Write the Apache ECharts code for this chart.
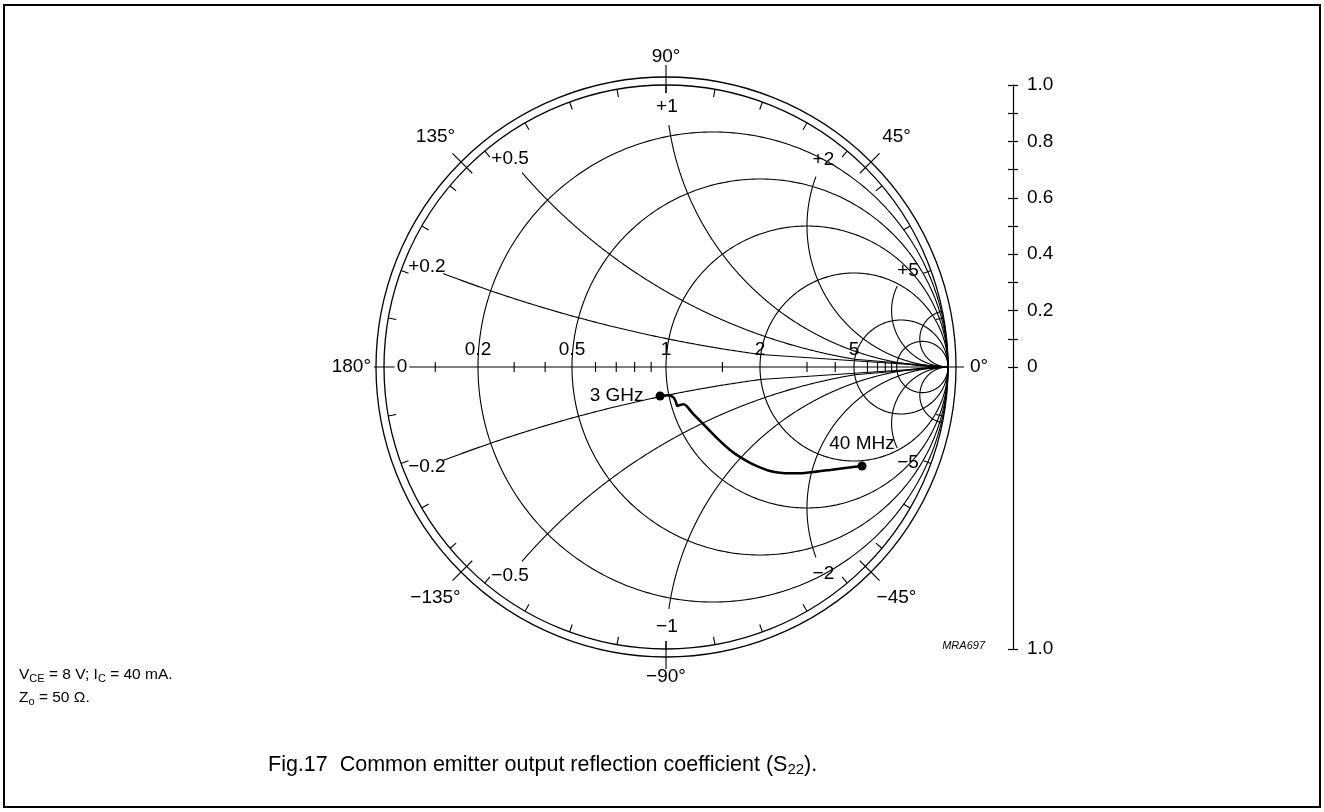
<!DOCTYPE html>
<html><head><meta charset="utf-8">
<script src="https://cdn.jsdelivr.net/npm/echarts@6/dist/echarts.min.js"></script>
<style>html,body{margin:0;padding:0;background:#fff}#c{width:1324px;height:812px}</style>
</head><body><div id="c"></div>
<script>
// ---- chart content ----
const resistanceCircles = [0.2, 0.5, 1, 2, 5, 10];
const resistanceLabelValues = [0, 0.2, 0.5, 1, 2, 5];
const resistanceLabelText = ['0', '0.2', '0.5', '1', '2', '5'];
const axisMinorR = [0.1, 0.3, 0.4, 0.6, 0.7, 0.8, 0.9, 1.5, 3, 4, 6, 7, 8, 9];
const reactanceValues = [0.2, 0.5, 1, 2, 5, 10, -0.2, -0.5, -1, -2, -5, -10];
const reactanceEndR = [2, 5, Infinity, Infinity, Infinity, Infinity, 2, 5, Infinity, Infinity, Infinity, Infinity];
const reactanceLabelText = ['+0.2', '+0.5', '+1', '+2', '+5', '', '\u22120.2', '\u22120.5', '\u22121', '\u22122', '\u22125', ''];
const angleTickStep = 10;
const angleLabelValues = [0, 45, 90, 135, 180, -135, -90, -45];
const angleLabelText = ['0\u00b0', '45\u00b0', '90\u00b0', '135\u00b0', '180\u00b0', '\u2212135\u00b0', '\u221290\u00b0', '\u221245\u00b0'];
const scaleTickValues = [-1, 0, 0.1, 0.2, 0.3, 0.4, 0.5, 0.6, 0.7, 0.8, 0.9, 1.0];
const scaleLabelValues = [-1, 0, 0.2, 0.4, 0.6, 0.8, 1.0];
// S22 trace, 40 MHz -> 3 GHz (reflection coefficient, real / imaginary)
const s22Re = [0.695, 0.635, 0.582, 0.528, 0.475, 0.440, 0.404, 0.369, 0.333, 0.298, 0.262, 0.227, 0.191, 0.156, 0.121, 0.097, 0.083, 0.073, 0.061, 0.050, 0.040, 0.035, 0.026, 0.008, -0.021];
const s22Im = [-0.351, -0.358, -0.365, -0.372, -0.377, -0.377, -0.375, -0.369, -0.356, -0.340, -0.319, -0.294, -0.262, -0.227, -0.191, -0.167, -0.150, -0.138, -0.132, -0.135, -0.138, -0.123, -0.107, -0.100, -0.103];
const freqLabels = ['40 MHz', '3 GHz'];

// ---- drawing ----
const FONT = 'Liberation Sans, Arial, Helvetica, sans-serif';
const LABEL_PX = 19;
const RING_GAP = 8;
const chart = echarts.init(document.getElementById('c'), null, {renderer: 'canvas'});

function gridRender(params, api) {
  const u = api.size([1, 0])[0];
  const o = api.coord([0, 0]);
  const C = (x, y) => api.coord([x, y]);
  const kids = [];
  const ls = {stroke: '#000', lineWidth: 1.1, fill: null};
  const poly = pts => kids.push({type: 'polyline', shape: {points: pts}, style: ls, silent: true});
  const text = (t, x, y, align, va, extra) => kids.push({type: 'text', silent: true,
    style: Object.assign({text: t, x: x, y: y, align: align, verticalAlign: va, fill: '#000', font: LABEL_PX + 'px ' + FONT}, extra || {})});
  const polar = (deg, rho) => [o[0] + rho * Math.cos(deg * Math.PI / 180), o[1] - rho * Math.sin(deg * Math.PI / 180)];

  // rings
  kids.push({type: 'circle', shape: {cx: o[0], cy: o[1], r: u}, style: {stroke: '#000', lineWidth: 1.3, fill: null}});
  kids.push({type: 'circle', shape: {cx: o[0], cy: o[1], r: u + RING_GAP}, style: {stroke: '#000', lineWidth: 1.3, fill: null}});
  // angle ticks
  for (let a = 0; a < 360; a += angleTickStep) {
    if (a % 180 === 0) continue;
    poly([polar(a, u - 8), polar(a, u)]);
  }
  angleLabelValues.forEach(a => {
    if (a % 180 !== 0) poly([polar(a, u - 8), polar(a, u + RING_GAP + 12)]);
  });
  // real axis
  poly([[o[0] - u - RING_GAP - 2, o[1]], [o[0] + u + RING_GAP + 8, o[1]]]);
  axisMinorR.forEach(r => {
    const p = C((r - 1) / (r + 1), 0);
    poly([[p[0], p[1] - 5], [p[0], p[1] + 5]]);
  });
  // resistance circles
  resistanceCircles.forEach(r => {
    const c = r / (1 + r), a = 1 / (1 + r), pts = [];
    for (let k = 0; k <= 360; k++) {
      const t = k * Math.PI / 180;
      pts.push(C(c + a * Math.cos(t), a * Math.sin(t)));
    }
    poly(pts);
  });
  // reactance arcs
  reactanceValues.forEach((X, i) => {
    const a = 1 / Math.abs(X), s = X > 0 ? 1 : -1;
    const end = [(X * X - 1) / (X * X + 1), 2 * X / (X * X + 1)];
    const lab = reactanceLabelText[i];
    const gap = lab ? 40 / u : 0, labD = 22 / u;
    const pts = [];
    let labPt = null, best = 1e9;
    for (let k = 0; k <= 4000; k++) {
      const phi = -Math.PI / 2 - k * 2 * Math.PI / 4000;
      const gx = 1 + a * Math.cos(phi), gy = s * (1 / Math.abs(X) + a * Math.sin(phi));
      const m2 = gx * gx + gy * gy;
      if (k > 0 && m2 > 1) break;
      const den = (1 - gx) * (1 - gx) + gy * gy;
      const r = den > 0 ? (1 - m2) / den : Infinity;
      const d = Math.hypot(gx - end[0], gy - end[1]);
      if (lab && Math.abs(d - labD) < best) { best = Math.abs(d - labD); labPt = [gx, gy]; }
      if (r <= reactanceEndR[i] && d >= gap) pts.push(C(gx, gy));
    }
    poly(pts);
    if (lab) { const p = C(labPt[0], labPt[1]); text(lab, p[0], p[1], 'center', 'middle'); }
  });
  // resistance labels
  resistanceLabelValues.forEach((r, i) => {
    const p = C((r - 1) / (r + 1), 0);
    if (r === 0) text(resistanceLabelText[i], p[0] + 18, p[1], 'center', 'middle', {backgroundColor: '#fff', padding: [0, 2]});
    else text(resistanceLabelText[i], p[0], p[1] - 17, 'center', 'middle');
  });
  // angle labels
  angleLabelValues.forEach((a, i) => {
    let p, al = 'center';
    if (a === 0) { p = polar(0, u + 22); al = 'left'; }
    else if (a === 180) { p = polar(180, u + RING_GAP + 5); al = 'right'; }
    else if (Math.abs(a) === 90) p = polar(a, u + 28);
    else p = polar(a, u + 44);
    text(angleLabelText[i], p[0], p[1], al, 'middle');
  });
  return {type: 'group', children: kids};
}

const trace = s22Re.map((v, i) => [v, s22Im[i]]);
const ends = [trace[0], trace[trace.length - 1]];
const sub = (n, s) => ({n: {fontSize: n, fontFamily: FONT, fill: '#000'}, s: {fontSize: s, fontFamily: FONT, fill: '#000', padding: [Math.round(s * 0.6), 0, 0, 0]}});

const axisBase = {type: 'value', min: -1, max: 1, gridIndex: 0};
chart.setOption({
  animation: false,
  backgroundColor: '#fff',
  grid: {left: 384, top: 85, width: 564, height: 564, containLabel: false},
  xAxis: Object.assign({}, axisBase, {show: false}),
  yAxis: [
    Object.assign({}, axisBase, {show: false}),
    Object.assign({}, axisBase, {position: 'right', offset: 65,
      axisLine: {show: true, lineStyle: {color: '#000', width: 1.2}},
      axisTick: {show: true, length: 5, inside: false, customValues: scaleTickValues, lineStyle: {color: '#000', width: 1.2}},
      axisLabel: {show: true, customValues: scaleLabelValues, color: '#000', fontSize: LABEL_PX, fontFamily: FONT, margin: 14,
        formatter: v => v === 0 ? '0' : Math.abs(v).toFixed(1)},
      splitLine: {show: false}}),
    Object.assign({}, axisBase, {position: 'right', offset: 65,
      axisLine: {show: false},
      axisTick: {show: true, length: 5, inside: true, customValues: scaleTickValues, lineStyle: {color: '#000', width: 1.2}},
      axisLabel: {show: false}, splitLine: {show: false}})
  ],
  series: [
    {type: 'custom', coordinateSystem: 'cartesian2d', clip: false, silent: true, data: [[0, 0]], renderItem: gridRender, z: 1},
    {type: 'line', data: trace, smooth: 0.2, symbol: 'none', clip: false, silent: true,
      lineStyle: {color: '#000', width: 2.6}, z: 3},
    {type: 'scatter', symbolSize: 9, itemStyle: {color: '#000', opacity: 1}, silent: true, z: 4,
      label: {show: true, color: '#000', opacity: 1, fontSize: LABEL_PX, fontFamily: FONT,
        formatter: p => freqLabels[p.dataIndex]},
      emphasis: {disabled: true},
      data: [
        {value: ends[0], label: {position: 'top', distance: 8}},
        {value: ends[1], label: {position: 'left', distance: 12}}
      ]}
  ],
  graphic: [
    {type: 'rect', shape: {x: 4, y: 5, width: 1316, height: 802}, style: {stroke: '#000', lineWidth: 2, fill: null}, silent: true},
    {type: 'text', left: 19, top: 667, silent: true, style: {
      text: '{n|V}{s|CE}{n| = 8 V; I}{s|C}{n| = 40 mA.}', rich: sub(15.5, 11)}},
    {type: 'text', left: 19, top: 690, silent: true, style: {
      text: '{n|Z}{s|o}{n| = 50 \u03a9.}', rich: sub(15.5, 11)}},
    {type: 'text', left: 268, top: 754, silent: true, style: {
      text: '{n|Fig.17  Common emitter output reflection coefficient (S}{s|22}{n|).}', rich: sub(21.5, 15)}},
    {type: 'text', right: 339, top: 640, silent: true, style: {text: 'MRA697', font: 'italic 11px ' + FONT, fill: '#000'}}
  ]
});
</script></body></html>
